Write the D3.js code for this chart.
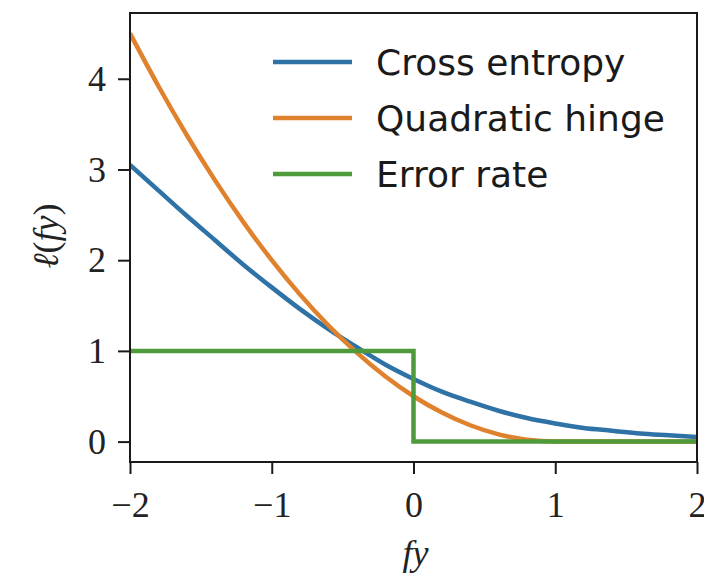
<!DOCTYPE html>
<html>
<head>
<meta charset="utf-8">
<script src="https://cdn.jsdelivr.net/npm/d3@7"></script>
<style>
  html, body { margin: 0; padding: 0; background: #fff; }
  svg { display: block; }
</style>
</head>
<body>
<svg id="chart" width="704" height="575"></svg>
<script>
// Sample positions along fy
const fyValues = [-2.0, -1.8, -1.6, -1.4, -1.2, -1.0, -0.8, -0.6, -0.4, -0.2, 0.0,
                  0.2, 0.4, 0.6, 0.8, 1.0, 1.2, 1.4, 1.6, 1.8, 2.0];
// Loss values at those positions
const crossEntropy = [3.05, 2.77, 2.49, 2.22, 1.95, 1.70, 1.46, 1.24, 1.04, 0.85, 0.69,
                      0.55, 0.44, 0.34, 0.26, 0.20, 0.15, 0.12, 0.09, 0.07, 0.05];
const quadraticHinge = [4.50, 3.92, 3.38, 2.88, 2.42, 2.00, 1.62, 1.28, 0.98, 0.72, 0.50,
                        0.32, 0.18, 0.08, 0.02, 0.00, 0.00, 0.00, 0.00, 0.00, 0.00];
// Error rate is a step: 1 for fy < 0, 0 afterwards
const errorX = [-2, 0, 0, 2];
const errorY = [1, 1, 0, 0];

const seriesNames = ["Cross entropy", "Quadratic hinge", "Error rate"];
const seriesColors = ["#2f72a6", "#e0812d", "#4f9a3b"];
const xTicks = [-2, -1, 0, 1, 2];
const yTicks = [0, 1, 2, 3, 4];

const svg = d3.select("#chart");
const plotLeft = 130, plotRight = 697, plotTop = 13, plotBottom = 462;

const x = d3.scaleLinear().domain([-2, 2]).range([plotLeft, plotRight]);
const y = d3.scaleLinear().domain([-0.225, 4.725]).range([plotBottom, plotTop]);

svg.append("defs").append("clipPath").attr("id", "plotClip")
  .append("rect").attr("x", plotLeft).attr("y", plotTop)
  .attr("width", plotRight - plotLeft).attr("height", plotBottom - plotTop);

const plot = svg.append("g").attr("clip-path", "url(#plotClip)");

const smooth = d3.line().x(d => x(d[0])).y(d => y(d[1])).curve(d3.curveMonotoneX);
const straight = d3.line().x(d => x(d[0])).y(d => y(d[1]));

const series = [
  { pts: d3.zip(fyValues, crossEntropy), gen: smooth },
  { pts: d3.zip(fyValues, quadraticHinge), gen: smooth },
  { pts: d3.zip(errorX, errorY), gen: straight }
];

series.forEach((s, i) => {
  plot.append("path")
    .attr("d", s.gen(s.pts))
    .attr("fill", "none")
    .attr("stroke", seriesColors[i])
    .attr("stroke-width", 4.5)
    .attr("stroke-linejoin", "miter");
});

// Frame
svg.append("rect")
  .attr("x", plotLeft).attr("y", plotTop)
  .attr("width", plotRight - plotLeft).attr("height", plotBottom - plotTop)
  .attr("fill", "none").attr("stroke", "#1a1a1a").attr("stroke-width", 2);

const fmt = v => (v < 0 ? "\u2212" : "") + Math.abs(v);
const tickFont = "'Liberation Serif', 'DejaVu Serif', serif";

const xAxis = d3.axisBottom(x).tickValues(xTicks).tickFormat(fmt).tickSize(12).tickPadding(17);
const gx = svg.append("g").attr("transform", `translate(0,${plotBottom})`).call(xAxis);
gx.select(".domain").remove();
gx.selectAll(".tick line").attr("stroke", "#1a1a1a").attr("stroke-width", 2);
gx.selectAll(".tick text").attr("font-family", tickFont).attr("font-size", 36).attr("fill", "#222");

const yAxis = d3.axisLeft(y).tickValues(yTicks).tickFormat(fmt).tickSize(12).tickPadding(12);
const gy = svg.append("g").attr("transform", `translate(${plotLeft},0)`).call(yAxis);
gy.select(".domain").remove();
gy.selectAll(".tick line").attr("stroke", "#1a1a1a").attr("stroke-width", 2);
gy.selectAll(".tick text").attr("font-family", tickFont).attr("font-size", 36).attr("fill", "#222");

// Axis labels
svg.append("text")
  .attr("x", (plotLeft + plotRight) / 2 + 2).attr("y", 565)
  .attr("text-anchor", "middle")
  .attr("font-family", tickFont).attr("font-size", 36).attr("font-style", "italic")
  .attr("fill", "#222")
  .text("fy");

const yl = svg.append("text")
  .attr("transform", "translate(58,236) rotate(-90)")
  .attr("text-anchor", "middle")
  .attr("font-family", tickFont).attr("font-size", 36)
  .attr("fill", "#222");
yl.append("tspan").attr("font-style", "italic").text("\u2113");
yl.append("tspan").text("(");
yl.append("tspan").attr("font-style", "italic").text("fy");
yl.append("tspan").text(")");

// Legend
const legend = svg.append("g");
seriesNames.forEach((name, i) => {
  const ly = 62 + i * 56;
  legend.append("line")
    .attr("x1", 273).attr("x2", 352).attr("y1", ly).attr("y2", ly)
    .attr("stroke", seriesColors[i]).attr("stroke-width", 4.5);
  legend.append("text")
    .attr("x", 376).attr("y", ly + 13)
    .attr("font-family", "'DejaVu Sans', sans-serif").attr("font-size", 36)
    .attr("fill", "#1a1a1a")
    .text(name);
});
</script>
</body>
</html>
